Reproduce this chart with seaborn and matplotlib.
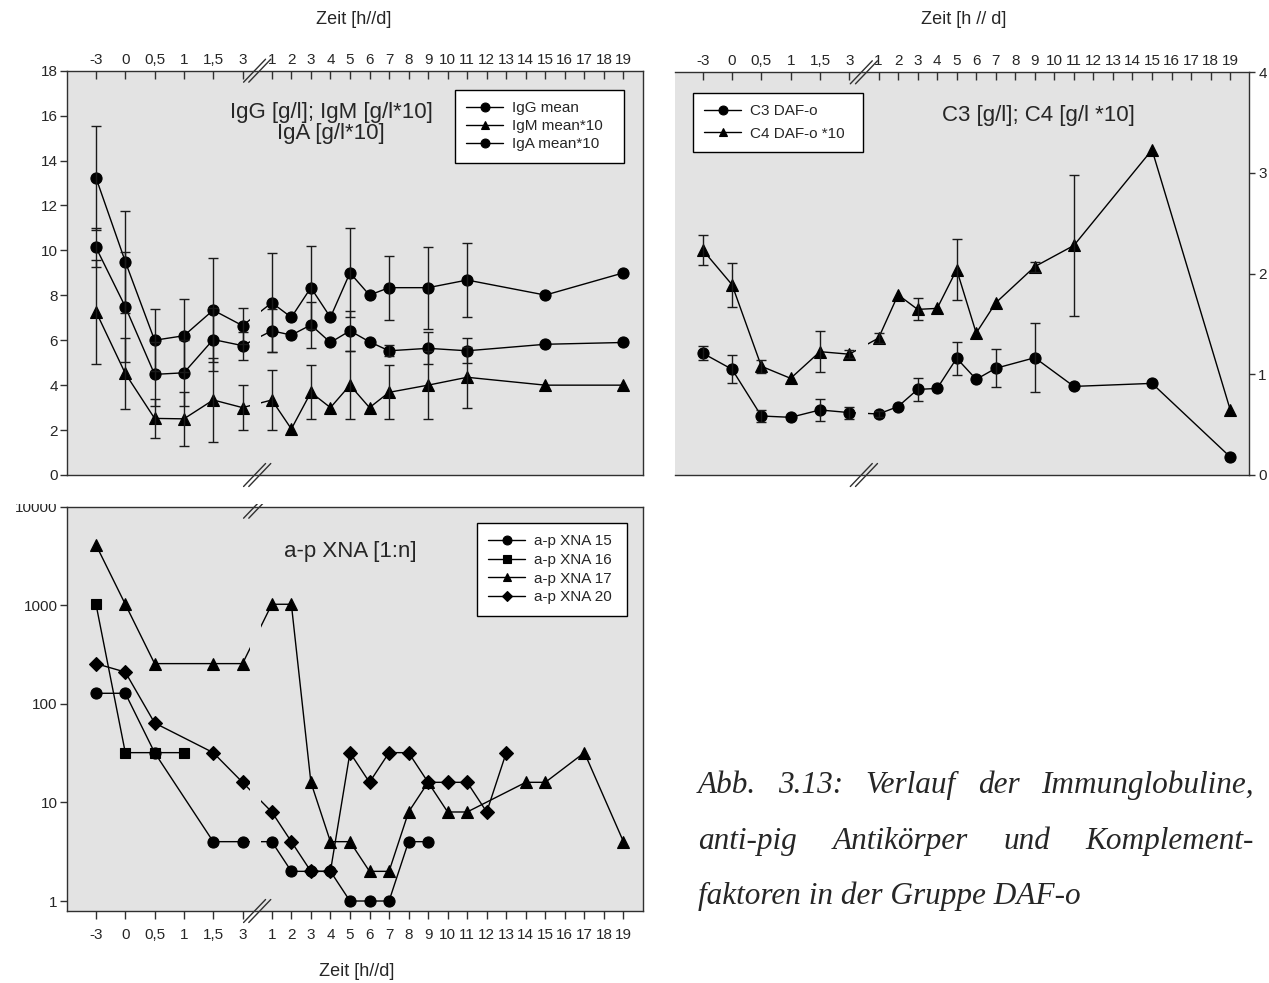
import numpy as np
import pandas as pd
import matplotlib
matplotlib.use("Agg")
import matplotlib.pyplot as plt
import seaborn as sns
from matplotlib.lines import Line2D
from matplotlib.transforms import Bbox, IdentityTransform

nan = np.nan

# ---------------- data ----------------
HOUR_LABELS = ["-3", "0", "0,5", "1", "1,5", "3"]
DAY_LABELS = ["1", "2", "3", "4", "5", "6", "7", "8", "9", "10", "11", "12",
              "13", "14", "15", "16", "17", "18", "19"]

IGG = [13.23, 9.5, 6.0, 6.2, 7.34, 6.65,
       7.67, 7.02, 8.34, 7.02, 9.0, 8.01, 8.34, nan, 8.34, nan, 8.68, nan, nan, nan, 8.01, nan, nan, nan, 9.0]
IGG_ERR = [2.33, 2.27, 1.37, 1.62, 2.33, 0.8,
           2.2, nan, 1.85, nan, 1.98, nan, 1.42, nan, 1.83, nan, 1.66, nan, nan, nan, nan, nan, nan, nan, nan]
IGM = [7.27, 4.52, 2.52, 2.5, 3.34, 3.0,
       3.34, 2.05, 3.68, 3.0, 4.0, 3.0, 3.68, nan, 4.0, nan, 4.35, nan, nan, nan, 4.0, nan, nan, nan, 4.0]
IGM_ERR = [2.32, 1.56, 0.86, 1.2, 1.86, 1.0,
           1.33, nan, 1.2, nan, 1.5, nan, 1.2, nan, 1.5, nan, 1.35, nan, nan, nan, nan, nan, nan, nan, nan]
IGA = [10.13, 7.49, 4.48, 4.55, 6.03, 5.76,
       6.42, 6.23, 6.68, 5.9, 6.42, 5.93, 5.53, nan, 5.64, nan, 5.53, nan, nan, nan, 5.82, nan, nan, nan, 5.9]
IGA_ERR = [0.87, 2.45, 1.42, 1.48, 1.4, 0.62,
           0.95, nan, 1.02, nan, 0.9, nan, 0.25, nan, 0.72, nan, 0.55, nan, nan, nan, nan, nan, nan, nan, nan]

C3 = [1.21, 1.05, 0.586, 0.573, 0.646, 0.62,
      0.606, 0.68, 0.85, 0.86, 1.16, 0.95, 1.06, nan, 1.165, nan, 0.88, nan, nan, nan, 0.91, nan, nan, nan, 0.18]
C3_ERR = [0.07, 0.14, 0.06, nan, 0.11, 0.06,
          0.03, nan, 0.115, nan, 0.165, nan, 0.19, nan, 0.34, nan, nan, nan, nan, nan, nan, nan, nan, nan, nan]
C4 = [2.235, 1.89, 1.08, 0.96, 1.225, 1.2,
      1.36, 1.79, 1.645, 1.655, 2.04, 1.41, 1.71, nan, 2.07, nan, 2.28, nan, nan, nan, 3.23, nan, nan, nan, 0.65]
C4_ERR = [0.15, 0.22, 0.065, nan, 0.205, 0.04,
          0.05, nan, 0.11, nan, 0.3, nan, nan, nan, 0.05, nan, 0.7, nan, nan, nan, nan, nan, nan, nan, nan]

XNA15 = [128, 128, 32, nan, 4, 4,
         4, 2, 2, 2, 1, 1, 1, 4, 4, nan, nan, nan, nan, nan, nan, nan, nan, nan, nan]
XNA16 = [1024, 32, 32, 32, nan, nan,
         nan, nan, nan, nan, nan, nan, nan, nan, nan, nan, nan, nan, nan, nan, nan, nan, nan, nan, nan]
XNA17 = [4096, 1024, 256, nan, 256, 256,
         1024, 1024, 16, 4, 4, 2, 2, 8, 16, 8, 8, nan, nan, 16, 16, nan, 32, nan, 4]
XNA20 = [256, 210, 64, nan, 32, 16,
         8, 4, 2, 2, 32, 16, 32, 32, 16, 16, 16, 8, 32, nan, nan, nan, nan, nan, nan]

CAPTION_LINES = [["Abb.", "3.13:", "Verlauf", "der", "Immunglobuline,"],
                 ["anti-pig", "Antikörper", "und", "Komplement-"],
                 ["faktoren in der Gruppe DAF-o"]]

# ---------------- layout helpers ----------------
HOUR_STEP = 1.5
HOUR_POS = [i * HOUR_STEP for i in range(len(HOUR_LABELS))]
DAY_START = HOUR_POS[-1] + HOUR_STEP
DAY_POS = [DAY_START + i for i in range(len(DAY_LABELS))]
POS = HOUR_POS + DAY_POS
TICK_LABELS = HOUR_LABELS + DAY_LABELS
BREAK_X = (HOUR_POS[-1] + DAY_START) / 2

BG = "#e3e3e3"
SPINE = "#303030"

sns.set_style("ticks")
plt.rcParams["font.family"] = ["Liberation Sans", "DejaVu Sans"]
plt.rcParams["axes.linewidth"] = 1.0

W, H = 1269, 983
fig = plt.figure(figsize=(W / 100, H / 100), dpi=100)


def axes_px(x0, y0, x1, y1):
    return fig.add_axes([x0 / W, 1 - y1 / H, (x1 - x0) / W, (y1 - y0) / H])


ax1 = axes_px(66.7, 70.7, 643, 475)
ax2 = axes_px(675, 72.3, 1249.3, 475)
ax3 = axes_px(66.7, 506.7, 643, 911)

for ax in (ax1, ax2, ax3):
    ax.set_facecolor(BG)
    for s in ax.spines.values():
        s.set_color(SPINE)
        s.set_linewidth(1.0)


def draw_series(ax, vals, err, marker, ms, label):
    df = pd.DataFrame({"x": POS, "y": vals}).dropna()
    sns.lineplot(data=df, x="x", y="y", ax=ax, color="black", marker=marker,
                 markersize=ms, markeredgecolor="black", markerfacecolor="black",
                 markeredgewidth=0.8, linewidth=1.0, estimator=None, sort=False,
                 label=label, zorder=2)
    if err is not None:
        de = pd.DataFrame({"x": POS, "y": vals, "e": err}).dropna()
        ax.errorbar(de["x"], de["y"], yerr=de["e"], fmt="none", ecolor="#1a1a1a",
                    elinewidth=1.0, capsize=3.6, capthick=1.0, zorder=2.5)


def gap(ax):
    # hide the joining segment across the axis break (background-coloured band)
    ax.axvspan(HOUR_POS[-1] + 0.36, DAY_START - 0.55, color=BG, zorder=2.2, lw=0)


def legend(ax, x0, w, ytop, spacing):
    leg = ax.legend(loc="upper left", bbox_to_anchor=(x0, 0, w, ytop), mode="expand",
                    borderaxespad=0, frameon=True, fancybox=False, edgecolor="black",
                    framealpha=1, fontsize=11, handlelength=2.4, handletextpad=0.6,
                    labelspacing=spacing, borderpad=0.75, markerscale=0.8)
    leg.get_frame().set_linewidth(1.0)
    leg.set_zorder(5)


# ---------------- panel 1: immunoglobulins ----------------
draw_series(ax1, IGG, IGG_ERR, "o", 8, "IgG mean")
draw_series(ax1, IGM, IGM_ERR, "^", 8, "IgM mean*10")
draw_series(ax1, IGA, IGA_ERR, "o", 8, "IgA mean*10")
gap(ax1)
ax1.set_xlim(-1.5, 28.0)
ax1.set_ylim(0, 18)
ax1.set_yticks(range(0, 19, 2))
ax1.set_xticks(POS)
ax1.set_xticklabels(TICK_LABELS)
ax1.xaxis.tick_top()
ax1.tick_params(axis="x", direction="in", length=6, width=1, pad=3, labelsize=11,
                top=True, bottom=False, labeltop=True, labelbottom=False, color=SPINE)
ax1.tick_params(axis="y", direction="out", length=5, width=1, pad=1.5, labelsize=11, color=SPINE)
ax1.set_xlabel("")
ax1.set_ylabel("")
ax1.text(0.4586, 0.8978, "IgG [g/l]; IgM [g/l*10]", transform=ax1.transAxes,
         ha="center", va="center", fontsize=16, zorder=4)
ax1.text(0.4586, 0.8459, "IgA [g/l*10]", transform=ax1.transAxes,
         ha="center", va="center", fontsize=16, zorder=4)
legend(ax1, 0.6738, 0.2933, 0.9522, 0.25)

# ---------------- panel 2: complement ----------------
draw_series(ax2, C3, C3_ERR, "o", 8, "C3 DAF-o")
draw_series(ax2, C4, C4_ERR, "^", 8, "C4 DAF-o *10")
gap(ax2)
ax2.set_xlim(-1.42, 27.98)
ax2.set_ylim(0, 4)
ax2.set_yticks(range(0, 5))
ax2.set_xticks(POS)
ax2.set_xticklabels(TICK_LABELS)
ax2.xaxis.tick_top()
ax2.yaxis.tick_right()
ax2.tick_params(axis="x", direction="in", length=6, width=1, pad=3, labelsize=11,
                top=True, bottom=False, labeltop=True, labelbottom=False, color=SPINE)
ax2.tick_params(axis="y", direction="out", length=4.5, width=1, pad=2, labelsize=11,
                right=True, left=False, labelright=True, labelleft=False, color=SPINE)
ax2.spines["left"].set_visible(False)
ax2.set_xlabel("")
ax2.set_ylabel("")
ax2.text(0.632, 0.8915, "C3 [g/l]; C4 [g/l *10]", transform=ax2.transAxes,
         ha="center", va="center", fontsize=16, zorder=4)
legend(ax2, 0.0313, 0.296, 0.9493, 0.55)

# ---------------- panel 3: anti-pig XNA ----------------
ax3.set_yscale("log")
draw_series(ax3, XNA15, None, "o", 8, "a-p XNA 15")
draw_series(ax3, XNA16, None, "s", 7, "a-p XNA 16")
draw_series(ax3, XNA17, None, "^", 8, "a-p XNA 17")
draw_series(ax3, XNA20, None, "D", 7, "a-p XNA 20")
gap(ax3)
ax3.set_xlim(-1.5, 28.0)
ax3.set_ylim(0.792, 10000)
ax3.set_yticks([1, 10, 100, 1000, 10000])
ax3.set_yticklabels(["1", "10", "100", "1000", "10000"])
ax3.minorticks_off()
ax3.set_xticks(POS)
ax3.set_xticklabels(TICK_LABELS)
ax3.tick_params(axis="x", direction="out", length=5.5, width=1, pad=6.5, labelsize=11, color=SPINE)
ax3.tick_params(axis="y", direction="out", length=5, width=1, pad=1.5, labelsize=11, color=SPINE)
ax3.set_xlabel("")
ax3.set_ylabel("")
ax3.text(0.4916, 0.888, "a-p XNA [1:n]", transform=ax3.transAxes,
         ha="center", va="center", fontsize=16, zorder=4)
legend(ax3, 0.712, 0.2603, 0.9597, 0.3)

# axis titles
fig.text(353.5 / W, 1 - 20 / H, "Zeit [h//d]", ha="center", va="center", fontsize=13)
fig.text(964 / W, 1 - 20 / H, "Zeit [h // d]", ha="center", va="center", fontsize=13)
fig.text(357 / W, 1 - 972 / H, "Zeit [h//d]", ha="center", va="center", fontsize=13)

# clip region for the bottom panel (image top edge of lower chart)
clip_bottom = Bbox([[0, 0], [W, H - 504]])


def break_marks(ax, ys_axes, clip=None):
    cx = ax.transData.transform((BREAK_X, 1))[0]
    for ya in ys_axes:
        cy = ax.transAxes.transform((0, ya))[1]
        for k in (-2.6, 2.6):
            ln = Line2D([cx + k - 11, cx + k + 11], [cy - 11.5, cy + 11.5],
                        transform=IdentityTransform(), color=SPINE, lw=1.0, zorder=6)
            if clip is not None and ya == 1:
                ln.set_clip_box(clip)
                ln.set_clip_on(True)
            fig.add_artist(ln)


break_marks(ax1, [0, 1])
break_marks(ax2, [0, 1])
break_marks(ax3, [0, 1], clip=clip_bottom)

# clip the top tick label of the log axis like the lower chart's edge
for t in ax3.get_yticklabels():
    if t.get_text() == "10000":
        t.set_clip_box(clip_bottom)
        t.set_clip_on(True)

# ---------------- caption (justified) ----------------
renderer = fig.canvas.get_renderer()
L, R = 698, 1254
BASELINES = [793, 849, 904]
cap_kw = dict(family=["Liberation Serif", "DejaVu Serif"], style="italic", fontsize=22.5,
              va="baseline", ha="left")
for li, words in enumerate(CAPTION_LINES):
    yb = 1 - BASELINES[li] / H
    if len(words) == 1:
        fig.text(L / W, yb, words[0], **cap_kw)
        continue
    texts = [fig.text(0, yb, w_, **cap_kw) for w_ in words]
    widths = [t.get_window_extent(renderer=renderer).width for t in texts]
    g = (R - L - sum(widths)) / (len(words) - 1)
    x = L
    for t, wd in zip(texts, widths):
        t.set_x(x / W)
        x += wd + g

fig.savefig("out.png", dpi=100)
